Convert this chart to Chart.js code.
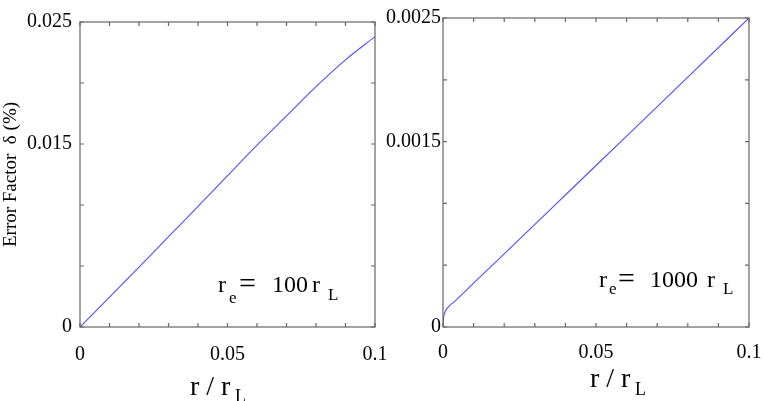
<!DOCTYPE html>
<html>
<head>
<meta charset="utf-8">
<script src="https://cdn.jsdelivr.net/npm/chart.js@4.4.1/dist/chart.umd.min.js"></script>
<style>
  body { margin: 0; background: #fff; }
  canvas { position: absolute; top: 0; }
  #left { left: 0; }
  #right { left: 380px; }
</style>
</head>
<body>
<canvas id="left" width="395" height="401"></canvas>
<canvas id="right" width="383" height="401"></canvas>
<script>
// r / r_L (x) and error factor delta in % (y)
const rLeft = [0, 0.01, 0.02, 0.03, 0.04, 0.05, 0.06, 0.07, 0.08, 0.09, 0.1];
const deltaLeft = [0, 0.00245, 0.0049, 0.0074, 0.00988, 0.0124, 0.0149, 0.0173, 0.0197, 0.0219, 0.0238];

const rRight = [0, 0.0001, 0.0002, 0.0005, 0.001, 0.002, 0.004, 0.008, 0.014, 0.02, 0.04, 0.06, 0.08, 0.1];
const deltaRight = [0, 0.00005, 0.00008, 0.00011, 0.00014, 0.000169, 0.000212, 0.000307, 0.00045, 0.000592, 0.001068, 0.001545, 0.002021, 0.0025];

// tick labels
const xTickLabels = ["0", "0.05", "0.1"];
const yTickLabelsLeft = ["0", "0.015", "0.025"];
const yTickLabelsRight = ["0", "0.0015", "0.0025"];

const serif = '"Liberation Serif", "DejaVu Serif", serif';
const lineColor = "#4f4fff";
const frameColor = "#666";

// only show the labels that appear in the figure
const labelsFrom = (list) => (value) => {
  const hit = list.find((s) => Math.abs(parseFloat(s) - value) < 1e-9);
  return hit !== undefined ? hit : "";
};

// box around the plot, inward ticks on all four sides and the rich text labels
const framePlugin = {
  id: "frame",
  afterDraw(chart, args, opts) {
    const { ctx, chartArea: a } = chart;
    const x = chart.scales.x;
    const y = chart.scales.y;
    const len = 4;
    ctx.save();
    ctx.strokeStyle = frameColor;
    ctx.lineWidth = 1.2;
    ctx.strokeRect(a.left, a.top, a.right - a.left, a.bottom - a.top);
    ctx.beginPath();
    x.ticks.forEach((t) => {
      const px = x.getPixelForValue(t.value);
      ctx.moveTo(px, a.bottom);
      ctx.lineTo(px, a.bottom - len);
      ctx.moveTo(px, a.top);
      ctx.lineTo(px, a.top + len);
    });
    y.ticks.forEach((t) => {
      const py = y.getPixelForValue(t.value);
      ctx.moveTo(a.left, py);
      ctx.lineTo(a.left + len, py);
      ctx.moveTo(a.right, py);
      ctx.lineTo(a.right - len, py);
    });
    ctx.stroke();

    ctx.fillStyle = "#000";
    ctx.textAlign = "left";
    ctx.textBaseline = "alphabetic";
    (opts.texts || []).forEach((p) => {
      ctx.font = p.size + "px " + serif;
      ctx.fillText(p.text, a.left + p.dx, a.bottom + p.dy);
    });
    ctx.restore();
  },
};

function makeChart(id, xs, ys, yMax, yStep, yLabels, opts) {
  const ctx = document.getElementById(id).getContext("2d");
  return new Chart(ctx, {
    type: "line",
    data: {
      datasets: [
        {
          data: xs.map((v, i) => ({ x: v, y: ys[i] })),
          borderColor: lineColor,
          borderWidth: 1.1,
          pointRadius: 0,
          cubicInterpolationMode: "monotone",
          fill: false,
        },
      ],
    },
    options: {
      responsive: false,
      animation: false,
      events: [],
      layout: { padding: { top: opts.top, right: opts.right, left: 0, bottom: 0 } },
      plugins: {
        legend: { display: false },
        tooltip: { enabled: false },
        frame: { texts: opts.texts },
      },
      scales: {
        x: {
          type: "linear",
          min: 0,
          max: 0.1,
          grid: { display: false, drawTicks: false },
          border: { display: false },
          afterFit: (s) => {
            s.height = 74;
            s.paddingLeft = 0;
            s.paddingRight = 0;
          },
          ticks: {
            stepSize: 0.01,
            autoSkip: false,
            maxRotation: 0,
            padding: opts.xPad,
            color: "#000",
            font: { family: serif, size: 20 },
            callback: labelsFrom(xTickLabels),
          },
        },
        y: {
          min: 0,
          max: yMax,
          grid: { display: false, drawTicks: false },
          border: { display: false },
          afterFit: (s) => {
            s.width = opts.yWidth;
            s.paddingTop = 0;
            s.paddingBottom = 0;
          },
          title: {
            display: !!opts.yTitle,
            text: opts.yTitle || "",
            color: "#000",
            font: { family: serif, size: 19 },
            padding: { top: 0, bottom: 0 },
          },
          ticks: {
            stepSize: yStep,
            autoSkip: false,
            padding: opts.yPad,
            color: "#000",
            font: { family: serif, size: 20 },
            callback: labelsFrom(yLabels),
          },
        },
      },
    },
    plugins: [framePlugin],
  });
}

makeChart("left", rLeft, deltaLeft, 0.025, 0.005, yTickLabelsLeft, {
  top: 22, right: 20, yWidth: 80, xPad: 16, yPad: 8,
  yTitle: "Error Factor  \u03b4 (%)",
  texts: [
    { text: "r", size: 24, dx: 138, dy: -35 },
    { text: "e", size: 17, dx: 149, dy: -24 },
    { text: "=", size: 30, dx: 159, dy: -34 },
    { text: "100", size: 24, dx: 192, dy: -35 },
    { text: "r", size: 24, dx: 232, dy: -35 },
    { text: "L", size: 17, dx: 248, dy: -27 },
    { text: "r / r", size: 28, dx: 110, dy: 68 },
    { text: "L", size: 18, dx: 155, dy: 75 },
  ],
});

makeChart("right", rRight, deltaRight, 0.0025, 0.0005, yTickLabelsRight, {
  top: 18, right: 14, yWidth: 63, xPad: 14, yPad: 2,
  texts: [
    { text: "r", size: 24, dx: 156, dy: -40 },
    { text: "e", size: 17, dx: 166, dy: -33 },
    { text: "=", size: 30, dx: 175, dy: -39 },
    { text: "1000", size: 24, dx: 207, dy: -40 },
    { text: "r", size: 24, dx: 264, dy: -40 },
    { text: "L", size: 17, dx: 280, dy: -33 },
    { text: "r / r", size: 28, dx: 147, dy: 60 },
    { text: "L", size: 18, dx: 192, dy: 68 },
  ],
});
</script>
</body>
</html>
